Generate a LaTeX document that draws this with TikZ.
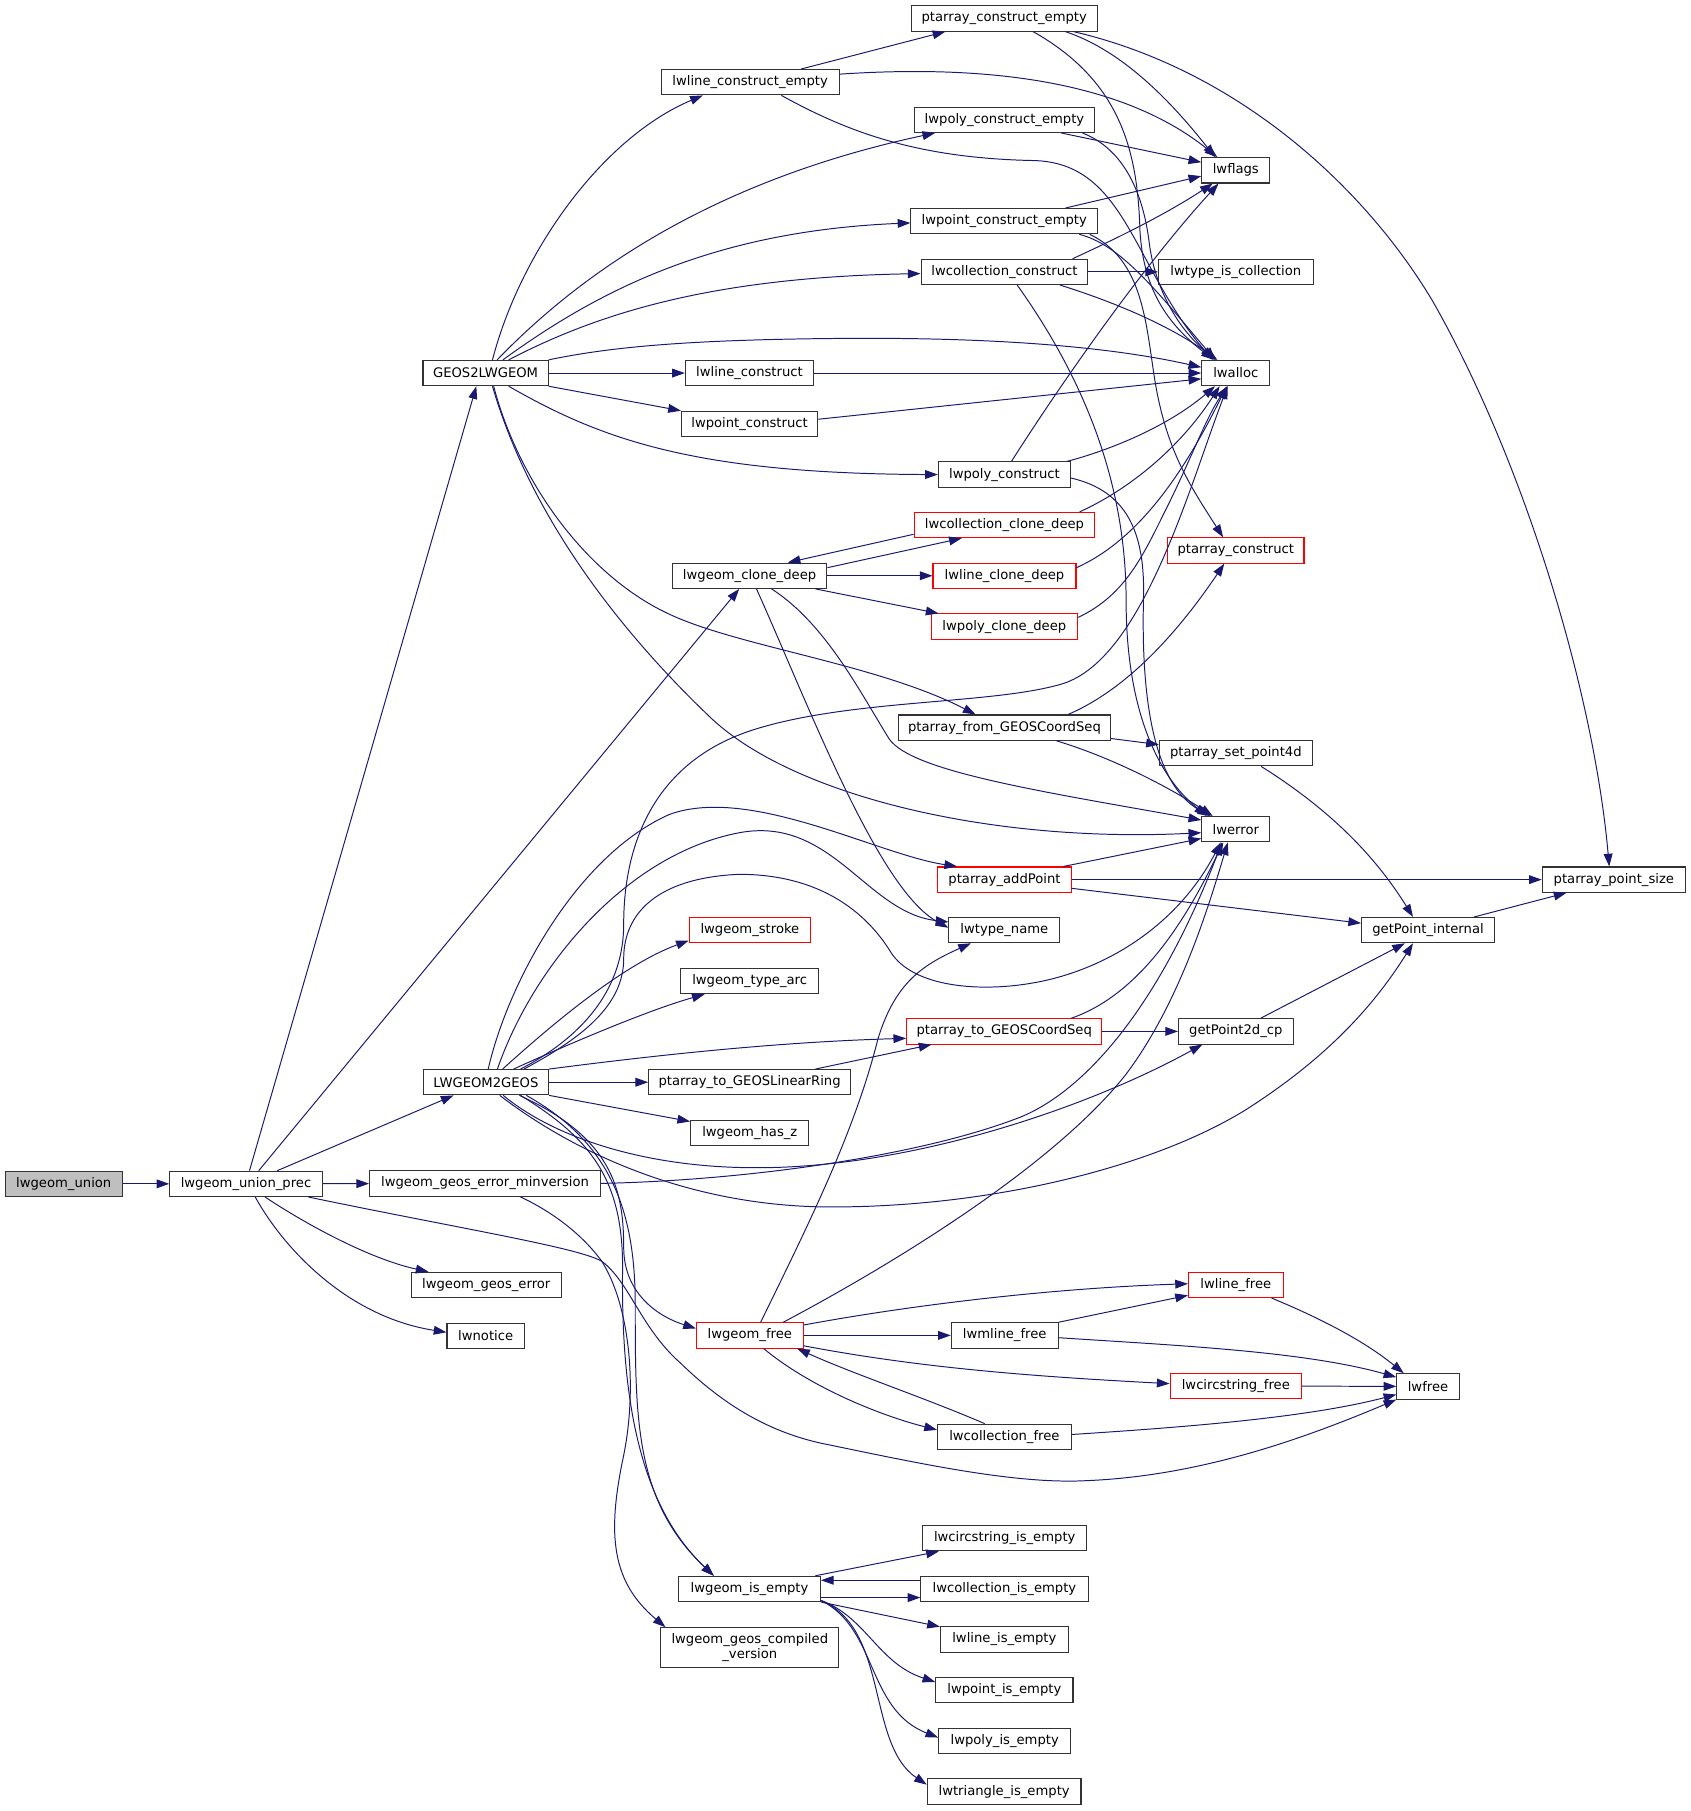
\documentclass[tikz,border=0pt]{standalone}
\usepackage{fontspec}
\setmainfont{DejaVu Sans}
\usetikzlibrary{arrows.meta}
\definecolor{edgec}{HTML}{191970}
\definecolor{boxc}{HTML}{333333}
\definecolor{grayfill}{HTML}{BFBFBF}
\tikzset{
  nb/.style={draw=boxc, line width=0.9pt, inner sep=0pt, minimum height=21.9pt, fill=white, text=black, font=\fontsize{11.4}{13.5}\selectfont},
  nr/.style={nb, draw=red},
  e/.style={draw=edgec, line width=0.85pt, -{Triangle[length=11pt,width=7.6pt]}}
}
\begin{document}
\begin{tikzpicture}[x=1pt,y=-1pt]
\useasboundingbox (0,0) rectangle (1464,1568);
% nodes
\node[nb, fill=grayfill, minimum width=101.6pt] (union) at (55.2,1025) {lwgeom\_union};
\node[nb, minimum width=132pt] (prec) at (213,1025) {lwgeom\_union\_prec};
\node[nb, minimum width=200pt] (minv) at (420,1024.6) {lwgeom\_geos\_error\_minversion};
\node[nb, minimum width=108.6pt] (l2g) at (420.7,937) {LWGEOM2GEOS};
\node[nb, minimum width=108.3pt] (g2l) at (420.4,323) {GEOS2LWGEOM};
\node[nb, minimum width=130pt] (gerr) at (421,1112.5) {lwgeom\_geos\_error};
\node[nb, minimum width=67pt] (notice) at (420.5,1156.5) {lwnotice};
\node[nb, minimum width=154pt] (lce) at (649.5,71.2) {lwline\_construct\_empty};
\node[nb, minimum width=161pt] (pce) at (869.5,16) {ptarray\_construct\_empty};
\node[nb, minimum width=156.6pt] (lpce) at (869.7,103.7) {lwpoly\_construct\_empty};
\node[nb, minimum width=59pt] (flags) at (1070,147.5) {lwflags};
\node[nb, minimum width=161.7pt] (lptce) at (869.5,191.5) {lwpoint\_construct\_empty};
\node[nb, minimum width=144.5pt] (lcc) at (869.7,235.4) {lwcollection\_construct};
\node[nb, minimum width=133.7pt] (tic) at (1070,235.4) {lwtype\_is\_collection};
\node[nb, minimum width=111pt] (lc) at (648.9,323) {lwline\_construct};
\node[nb, minimum width=59pt] (alloc) at (1070,323) {lwalloc};
\node[nb, minimum width=118pt] (lpc) at (649,367) {lwpoint\_construct};
\node[nb, minimum width=114.5pt] (lpoc) at (869.7,410.9) {lwpoly\_construct};
\node[nr, minimum width=156.6pt] (lccd) at (869.7,454.6) {lwcollection\_clone\_deep};
\node[nr, minimum width=118pt] (pc) at (1070,476.6) {ptarray\_construct};
\node[nb, minimum width=134pt] (gcd) at (649,498.5) {lwgeom\_clone\_deep};
\node[nr, minimum width=123.8pt] (lcd) at (869.7,498.5) {lwline\_clone\_deep};
\node[nr, minimum width=127pt] (lpcd) at (869.6,542.5) {lwpoly\_clone\_deep};
\node[nb, minimum width=183.4pt] (pfg) at (869.7,630) {ptarray\_from\_GEOSCoordSeq};
\node[nb, minimum width=132.4pt] (psp4) at (1070,652.2) {ptarray\_set\_point4d};
\node[nb, minimum width=59pt] (err) at (1070,718) {lwerror};
\node[nr, minimum width=115.2pt] (pap) at (869.7,761.6) {ptarray\_addPoint};
\node[nb, minimum width=124pt] (pps) at (1397.3,761.6) {ptarray\_point\_size};
\node[nb, minimum width=96pt] (tname) at (869.6,805.3) {lwtype\_name};
\node[nb, minimum width=115pt] (gpi) at (1236.4,805.3) {getPoint\_internal};
\node[nr, minimum width=105pt] (stroke) at (649.3,805.3) {lwgeom\_stroke};
\node[nb, minimum width=119.5pt] (tarc) at (649.1,849.4) {lwgeom\_type\_arc};
\node[nr, minimum width=169pt] (ptg) at (869.5,893) {ptarray\_to\_GEOSCoordSeq};
\node[nb, minimum width=99.2pt] (gp2) at (1070,893) {getPoint2d\_cp};
\node[nb, minimum width=174.7pt] (ptlr) at (649,937) {ptarray\_to\_GEOSLinearRing};
\node[nb, minimum width=102.4pt] (hasz) at (649.2,981) {lwgeom\_has\_z};
\node[nr, minimum width=82pt] (lfree) at (1070,1112.5) {lwline\_free};
\node[nr, minimum width=92.4pt] (gfree) at (649.2,1156.2) {lwgeom\_free};
\node[nb, minimum width=92.5pt] (mlfree) at (869.9,1156.2) {lwmline\_free};
\node[nb, minimum width=54pt] (free) at (1236.4,1200.4) {lwfree};
\node[nr, minimum width=113.8pt] (csfree) at (1070,1200) {lwcircstring\_free};
\node[nb, minimum width=115.8pt] (cfree) at (869.6,1244) {lwcollection\_free};
\node[nb, minimum width=142.2pt] (csie) at (869.9,1331.8) {lwcircstring\_is\_empty};
\node[nb, minimum width=122.7pt] (gie) at (649,1375.7) {lwgeom\_is\_empty};
\node[nb, minimum width=144.7pt] (cie) at (869.7,1375.7) {lwcollection\_is\_empty};
\node[nb, minimum width=110.8pt] (lie) at (869.6,1419.4) {lwline\_is\_empty};
\node[nb, minimum width=154pt, minimum height=34.6pt, align=center] (cver) at (649.2,1426.6) {lwgeom\_geos\_compiled\\\_version};
\node[nb, minimum width=118.8pt] (ptie) at (869.6,1463.3) {lwpoint\_is\_empty};
\node[nb, minimum width=114.3pt] (polyie) at (869.9,1507.4) {lwpoly\_is\_empty};
\node[nb, minimum width=133.1pt] (trie) at (869.4,1551.2) {lwtriangle\_is\_empty};

% edges from lwgeom_union / lwgeom_union_prec
\draw[e] (union) -- (prec);
\draw[e] ([xshift=3pt]prec.north) -- ([xshift=-8pt]g2l.south);
\draw[e] ([xshift=11pt]prec.north) -- ([xshift=-9pt]gcd.south);
\draw[e] ([xshift=27pt]prec.north) -- ([xshift=-28pt]l2g.south);
\draw[e] (prec) -- (minv);
\draw[e] ([xshift=16.5pt]prec.south) .. controls (265,1060) and (320,1090) .. ([xshift=-50pt]gerr.north);
\draw[e] ([xshift=8pt]prec.south) .. controls (245,1080) and (300,1140) .. ([yshift=3pt]notice.west);
\draw[e] ([xshift=54pt]prec.south) .. controls (400,1064) and (500,1080) .. (521,1092) .. controls (545,1110) and (555,1150) .. (589,1180) .. controls (620,1210) and (660,1240) .. (718,1251) .. controls (800,1268) and (880,1285) .. (940,1282) .. controls (1040,1278) and (1130,1245) .. (free.south west);

% lwgeom_geos_error_minversion
\draw[e] (minv.east) .. controls (650,1022) and (800,1000) .. (884,967) .. controls (935,946) and (1000,880) .. ([xshift=-12pt]err.south);
\draw[e] ([xshift=30pt]minv.south) .. controls (480,1050) and (505,1070) .. (521,1092) .. controls (545,1130) and (552,1200) .. (540,1260) .. controls (525,1330) and (530,1370) .. ([xshift=-73pt]cver.north);

% GEOS2LWGEOM
\draw[e] ([xshift=6pt]g2l.north) .. controls (450,220) and (520,120) .. ([xshift=-41pt]lce.south);
\draw[e] ([xshift=10pt]g2l.north) .. controls (490,250) and (600,160) .. ([xshift=-60pt]lpce.south);
\draw[e] ([xshift=15pt]g2l.north) .. controls (520,250) and (620,200) .. ([yshift=-1.5pt]lptce.west);
\draw[e] ([xshift=20pt]g2l.north) .. controls (520,270) and (620,240) .. ([yshift=-1.5pt]lcc.west);
\draw[e] (g2l.north east) .. controls (530,300) and (600,294) .. (730,293) .. controls (860,292) and (960,300) .. ([yshift=5pt]alloc.west);
\draw[e] (g2l) -- (lc);
\draw[e] (g2l.south east) -- (lpc.north west);
\draw[e] ([xshift=20pt]g2l.south) .. controls (520,380) and (600,410) .. (lpoc.west);
\draw[e] ([xshift=6pt]g2l.south) .. controls (460,450) and (540,550) .. (617,623) .. controls (690,690) and (860,730) .. ([yshift=-3pt]err.west);
\draw[e] ([xshift=7pt]g2l.south) .. controls (450,420) and (510,500) .. (580,532) .. controls (640,560) and (760,575) .. ([xshift=-25pt]pfg.north);

% lwline_construct_empty
\draw[e] ([xshift=44pt]lce.north) -- ([xshift=-51pt]pce.south);
\draw[e] ([yshift=7pt]lce.east) .. controls (820,58) and (960,60) .. ([xshift=-16pt]flags.north);
\draw[e] ([xshift=27pt]lce.south) .. controls (730,112) and (790,137) .. (895,139) .. controls (975,141) and (980,230) .. ([xshift=-20pt]alloc.north);

% ptarray_construct_empty
\draw[e] ([xshift=53pt]pce.south) .. controls (960,40) and (1000,70) .. ([xshift=-18pt]flags.north);
\draw[e] ([xshift=25pt]pce.south) .. controls (970,70) and (985,130) .. (987,200) .. controls (990,250) and (1010,280) .. ([xshift=-19pt]alloc.north);
\draw[e] ([xshift=60pt]pce.south) .. controls (1070,60) and (1180,160) .. (1240,260) .. controls (1320,400) and (1380,600) .. ([xshift=-4pt]pps.north);

% lwpoly_construct_empty
\draw[e] ([xshift=49pt]lpce.south) -- ([yshift=7pt]flags.west);
\draw[e] ([xshift=67.5pt]lpce.south) .. controls (975,130) and (990,170) .. (995,210) .. controls (1000,250) and (1020,285) .. ([xshift=-17pt]alloc.north);

% lwpoint_construct_empty
\draw[e] ([xshift=53pt]lptce.north) -- ([yshift=-5pt]flags.west);
\draw[e] ([xshift=65pt]lptce.south) .. controls (970,212) and (1000,250) .. ([xshift=-18pt]alloc.north);
\draw[e] ([xshift=74pt]lptce.south) .. controls (990,225) and (992,280) .. (1000,330) .. controls (1010,390) and (1030,420) .. ([xshift=-11pt]pc.north);

% lwcollection_construct
\draw[e] (lcc) -- (tic);
\draw[e] ([xshift=59pt]lcc.north) .. controls (970,205) and (1010,185) .. ([xshift=-20pt]flags.south);
\draw[e] ([xshift=48pt]lcc.south) .. controls (960,260) and (1010,280) .. ([xshift=-16pt]alloc.north);
\draw[e] ([xshift=11pt]lcc.south) .. controls (940,330) and (975,420) .. (975,520) .. controls (975,610) and (1000,670) .. ([xshift=-25pt]err.north);

% lwpoly_construct
\draw[e] ([xshift=6pt]lpoc.north) .. controls (920,330) and (990,230) .. ([xshift=-15pt]flags.south);
\draw[e] ([xshift=54pt]lpoc.north) .. controls (960,390) and (1010,370) .. ([xshift=-18pt]alloc.south);
\draw[e] ([yshift=-3pt]lpoc.east) .. controls (975,425) and (992,460) .. (990,520) .. controls (988,610) and (1000,680) .. ([xshift=-22pt]err.north);

% lwline_construct, lwpoint_construct
\draw[e] (lc) -- (alloc);
\draw[e] ([yshift=4pt]lpc.east) -- ([yshift=-5pt]alloc.west);

% clone deep
\draw[e] ([yshift=-8pt]lccd.west) -- ([xshift=33pt]gcd.north);
\draw[e] ([yshift=7pt]gcd.east) -- ([xshift=-37pt]lccd.south);
\draw[e] (gcd) -- (lcd);
\draw[e] ([xshift=57pt]gcd.south) -- ([xshift=-57pt]lpcd.north);
\draw[e] ([xshift=6pt]gcd.south) .. controls (700,610) and (760,770) .. ([yshift=2pt]tname.west);
\draw[e] ([xshift=19pt]gcd.south) .. controls (715,540) and (745,600) .. (770,640) .. controls (790,668) and (900,685) .. ([yshift=8pt]err.west);
\draw[e] ([yshift=7pt]lcd.east) .. controls (980,470) and (1020,420) .. ([xshift=-8pt]alloc.south);
\draw[e] ([yshift=8pt]lpcd.east) .. controls (975,515) and (990,480) .. (1010,440) .. controls (1030,400) and (1045,360) .. ([xshift=-7pt]alloc.south);
\draw[e] ([xshift=65pt]lccd.north) .. controls (975,425) and (1020,390) .. ([xshift=-14pt]alloc.south);

% ptarray_from_GEOSCoordSeq, set_point4d
\draw[e] ([xshift=55pt]pfg.north) .. controls (980,595) and (1025,540) .. ([xshift=-10pt]pc.south);
\draw[e] ([yshift=-9.4pt]pfg.east) -- ([yshift=7.5pt]psp4.west);
\draw[e] ([xshift=45pt]pfg.south) .. controls (960,655) and (1010,680) .. ([xshift=-20pt]err.north);
\draw[e] ([xshift=22pt]psp4.south) .. controls (1150,700) and (1190,740) .. ([xshift=-13pt]gpi.north);

% ptarray_addPoint, getPoint
\draw[e] ([xshift=51pt]pap.north) -- ([yshift=-8pt]err.west);
\draw[e] (pap) -- (pps);
\draw[e] ([yshift=-7.5pt]pap.east) -- ([yshift=6pt]gpi.west);
\draw[e] ([xshift=40pt]gpi.north) -- ([xshift=-41pt]pps.south);
\draw[e] ([xshift=21.5pt]gp2.north) -- ([xshift=-20pt]gpi.south);
\draw[e] (ptg) -- (gp2);
\draw[e] ([xshift=58pt]ptg.north) .. controls (990,860) and (1030,790) .. ([xshift=-11pt]err.south);
\draw[e] ([xshift=57pt]ptlr.north) -- ([xshift=-63pt]ptg.south);

% LWGEOM2GEOS
\draw[e] (l2g.north east) .. controls (580,912) and (680,902) .. ([yshift=-6pt]ptg.west);
\draw[e] (l2g) -- (ptlr);
\draw[e] (l2g.south east) -- ([yshift=10pt]hasz.west);
\draw[e] ([xshift=14.5pt]l2g.north) .. controls (480,885) and (540,835) .. ([yshift=-9pt]stroke.west);
\draw[e] ([xshift=24pt]l2g.north) .. controls (490,905) and (560,875) .. ([xshift=-39pt]tarc.south);
\draw[e] ([xshift=2pt]l2g.north) .. controls (440,850) and (500,740) .. (580,705) .. controls (650,680) and (760,740) .. ([xshift=-41pt]pap.north);
\draw[e] ([xshift=10pt]l2g.north) .. controls (460,840) and (540,740) .. (640,721) .. controls (720,706) and (750,790) .. ([yshift=7pt]tname.west);
\draw[e] ([xshift=30pt]l2g.north) .. controls (500,900) and (540,860) .. (540,800) .. controls (540,740) and (560,660) .. (655,631) .. controls (740,605) and (860,610) .. (920,592) .. controls (990,570) and (1030,420) .. ([xshift=-7pt]alloc.south);
\draw[e] ([xshift=33pt]l2g.north) .. controls (505,898) and (540,870) .. (540,830) .. controls (540,790) and (570,760) .. (640,757) .. controls (710,757) and (750,790) .. (771,824) .. controls (790,855) and (850,860) .. (900,850) .. controls (960,838) and (1020,800) .. ([xshift=-13pt]err.south);
\draw[e] ([xshift=15pt]l2g.south) .. controls (480,985) and (560,1012) .. (660,1011) .. controls (790,1010) and (940,960) .. ([xshift=-29pt]gp2.south);
\draw[e] ([xshift=12pt]l2g.south) .. controls (500,1000) and (600,1045) .. (720,1045) .. controls (860,1045) and (1000,1010) .. (1080,960) .. controls (1150,915) and (1190,870) .. ([xshift=-13pt]gpi.south);
\draw[e] ([xshift=29pt]l2g.south) .. controls (530,985) and (540,1030) .. (540,1080) .. controls (540,1120) and (570,1140) .. ([yshift=6pt]gfree.west);
\draw[e] ([xshift=30pt]l2g.south) .. controls (510,985) and (540,1020) .. (539,1100) .. controls (538,1200) and (550,1300) .. ([xshift=-31pt]gie.north);
\draw[e] ([xshift=35pt]l2g.south) .. controls (530,990) and (550,1050) .. (550,1130) .. controls (550,1230) and (550,1300) .. ([xshift=-31pt]gie.north);

% lwgeom_free
\draw[e] ([xshift=9.4pt]gfree.north) .. controls (700,1060) and (740,980) .. (760,900) .. controls (775,850) and (800,835) .. ([xshift=-29pt]tname.south);
\draw[e] ([xshift=29pt]gfree.north) .. controls (800,1080) and (920,1000) .. (975,930) .. controls (1020,870) and (1045,790) .. ([xshift=-7pt]err.south);
\draw[e] ([yshift=9pt]gfree.east) .. controls (800,1128) and (920,1115) .. ([yshift=1pt]lfree.west);
\draw[e] (gfree) -- (mlfree);
\draw[e] ([yshift=-9pt]gfree.east) .. controls (800,1185) and (900,1192) .. ([yshift=2pt]csfree.west);
\draw[e] ([xshift=12pt]gfree.south) .. controls (700,1200) and (760,1225) .. ([yshift=6pt]cfree.west);
\draw[e] ([xshift=-17pt]cfree.north) .. controls (800,1210) and (740,1190) .. ([xshift=41pt]gfree.south);
\draw[e] (mlfree.north east) -- ([yshift=-9pt]lfree.west);
\draw[e] ([yshift=-2pt]mlfree.east) .. controls (1020,1165) and (1130,1170) .. ([yshift=8pt]free.west);
\draw[e] ([xshift=31pt]lfree.south) .. controls (1140,1140) and (1180,1160) .. ([xshift=-21pt]free.north);
\draw[e] (csfree) -- (free);
\draw[e] ([yshift=2pt]cfree.east) .. controls (1020,1236) and (1130,1228) .. ([yshift=-7pt]free.west);

% lwgeom_is_empty
\draw[e] ([xshift=57pt]gie.north) -- ([xshift=-57pt]csie.south);
\draw[e] ([yshift=7.5pt]cie.west) -- ([yshift=7.5pt]gie.east);
\draw[e] ([yshift=-7.5pt]gie.east) -- ([yshift=-7.5pt]cie.west);
\draw[e] (gie.south east) -- ([yshift=11pt]lie.west);
\draw[e] ([yshift=-10pt]gie.east) .. controls (750,1400) and (760,1440) .. ([yshift=7pt]ptie.west);
\draw[e] ([yshift=-10pt]gie.east) .. controls (760,1410) and (750,1480) .. ([yshift=3pt]polyie.west);
\draw[e] ([yshift=-10pt]gie.east) .. controls (770,1410) and (750,1510) .. ([yshift=6pt]trie.west);
\end{tikzpicture}
\end{document}
